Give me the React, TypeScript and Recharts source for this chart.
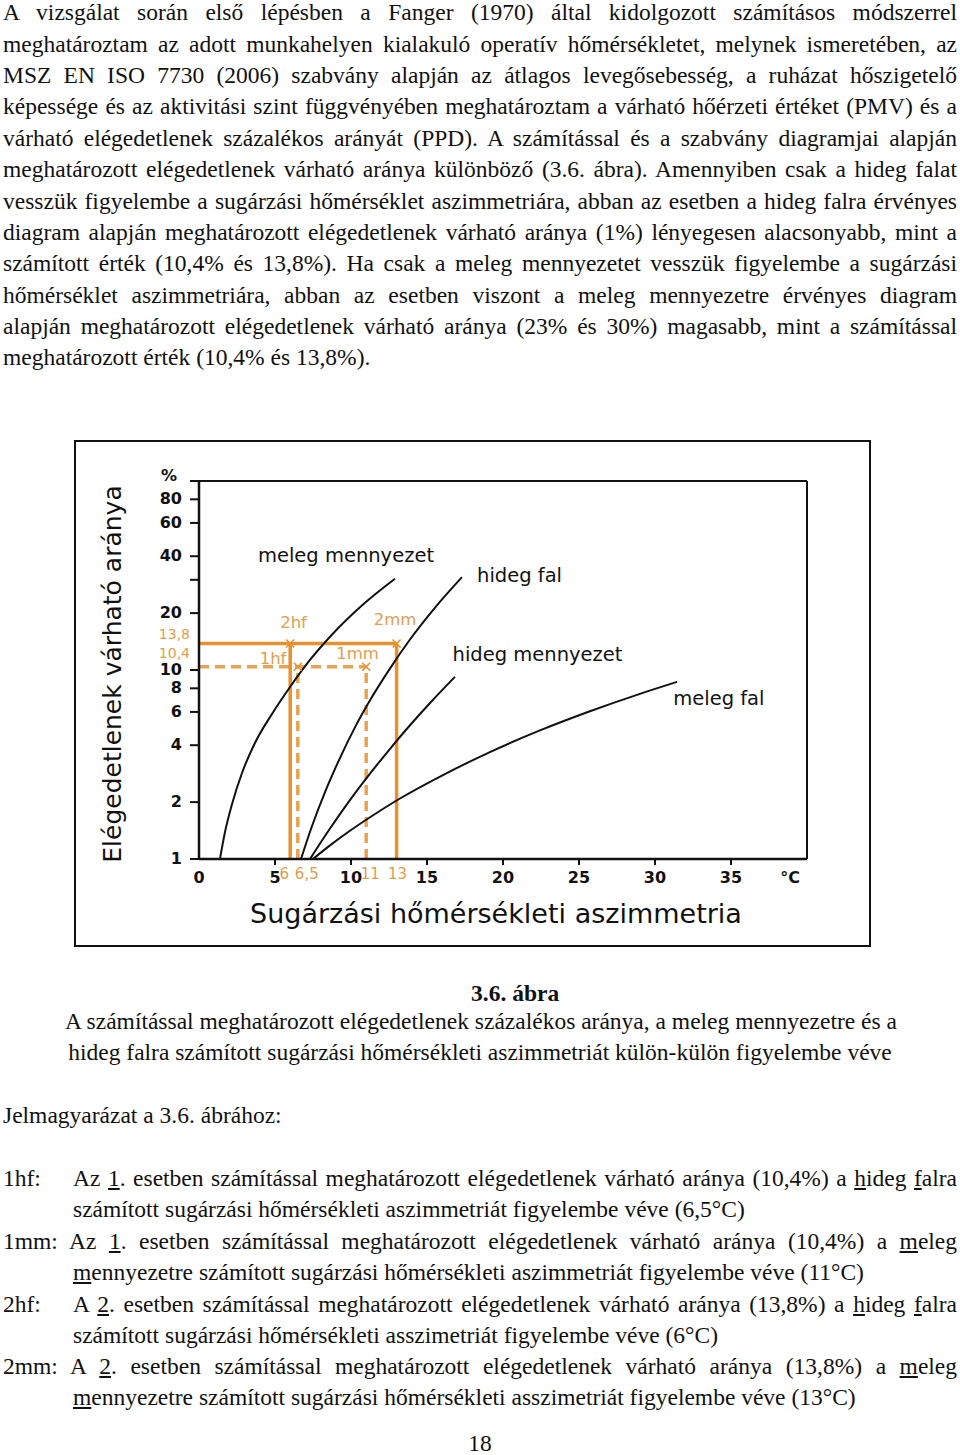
import React from 'react';
import { LineChart, Line, XAxis, YAxis, ReferenceLine, ReferenceDot } from 'recharts';

// ---------- data ----------
const xTickValues = [0, 5, 6, 6.5, 10, 11, 13, 15, 20, 25, 30, 35, 40];
const xTickLabels = ['0', '5', '6', '6,5', '10', '11', '13', '15', '20', '25', '30', '35', '°C'];
const xOrangeTicks = [6, 6.5, 11, 13];

const yTickValues = [1, 2, 4, 6, 8, 10, 10.4, 13.8, 20, 30, 40, 60, 80, 100];
const yTickLabels = ['1', '2', '4', '6', '8', '10', '10,4', '13,8', '20', '', '40', '60', '80', '%'];
const yOrangeTicks = [10.4, 13.8];

const melegMennyezet = [
  { x: 1.38, y: 1 }, { x: 1.71, y: 1.39 }, { x: 2.17, y: 1.95 }, { x: 2.83, y: 2.85 }, { x: 3.68, y: 4.11 },
  { x: 4.8, y: 5.85 }, { x: 5.99, y: 8.13 }, { x: 7.3, y: 11.3 }, { x: 8.62, y: 15.0 }, { x: 10.79, y: 22.2 },
  { x: 12.89, y: 30.4 },
];
const hidegFal = [
  { x: 6.71, y: 1 }, { x: 7.43, y: 1.49 }, { x: 8.29, y: 2.26 }, { x: 9.28, y: 3.43 }, { x: 10.26, y: 4.97 },
  { x: 11.25, y: 6.91 }, { x: 12.57, y: 10.2 }, { x: 13.88, y: 14.5 }, { x: 15.53, y: 21.4 }, { x: 17.3, y: 31.0 },
];
const hidegMennyezet = [
  { x: 7.3, y: 1 }, { x: 8.62, y: 1.45 }, { x: 9.93, y: 2.05 }, { x: 11.25, y: 2.83 }, { x: 12.57, y: 3.83 },
  { x: 13.88, y: 5.1 }, { x: 15.2, y: 6.69 }, { x: 16.84, y: 9.2 },
];
const melegFal = [
  { x: 7.5, y: 1 }, { x: 8.62, y: 1.18 }, { x: 9.93, y: 1.41 }, { x: 11.58, y: 1.73 }, { x: 13.22, y: 2.09 },
  { x: 15.86, y: 2.73 }, { x: 19.14, y: 3.68 }, { x: 22.43, y: 4.79 }, { x: 25.72, y: 6.05 }, { x: 29.01, y: 7.48 },
  { x: 31.45, y: 8.65 },
];

const curveLabels = [
  { text: 'meleg mennyezet', x: 9.67, y: 40.6 },
  { text: 'hideg fal', x: 21.09, y: 31.8 },
  { text: 'hideg mennyezet', x: 22.27, y: 12.2 },
  { text: 'meleg fal', x: 34.2, y: 7.11 },
];

// calculated cases: percentage and asymmetry temperatures
const case1Pct = 10.4;
const case2Pct = 13.8;
const case1hf = 6.5;
const case1mm = 11;
const case2hf = 6;
const case2mm = 13;

const caseLabels = [
  { text: '2hf', x: 6.22, y: 17.9 },
  { text: '2mm', x: 12.9, y: 18.5 },
  { text: '1hf', x: 4.87, y: 11.5 },
  { text: '1mm', x: 10.43, y: 12.3 },
];

// ---------- styles ----------
const CHART_FONT = "'DejaVu Sans', 'Liberation Sans', sans-serif";
const SERIF = "'Liberation Serif', 'Times New Roman', serif";
const INK = '#111';
const ORANGE = '#E8912F';
const ORANGE_DASH = '#EBA252';
const ORANGE_TEXT = '#E09E50';
const xOrangeDx: Record<string, number> = { '6': -6, '6.5': 9, '11': 4, '13': 1 };
const yOrangeDy: Record<string, number> = { '10.4': -14, '13.8': -10 };

const YTick = (props: any) => {
  const { x, y, payload } = props;
  const v = payload.value;
  const label = yTickLabels[yTickValues.indexOf(v)];
  if (yOrangeTicks.includes(v)) {
    return (
      <text x={x - 9} y={y + (yOrangeDy[String(v)] || 0)} dy="0.36em" textAnchor="end"
        fontFamily={CHART_FONT} fontSize={14} fill={ORANGE_TEXT}>{label}</text>
    );
  }
  const isPct = v === 100;
  return (
    <g>
      <line x1={x - 9} x2={x} y1={y} y2={y} stroke={INK} strokeWidth={2} />
      {label ? (
        <text x={x - (isPct ? 22 : 17)} y={y + (isPct ? -6 : -1)} dy="0.36em" textAnchor="end"
          fontFamily={CHART_FONT} fontWeight="bold" fontSize={16} fill={INK}>{label}</text>
      ) : null}
    </g>
  );
};

const XTick = (props: any) => {
  const { x, y, payload } = props;
  const v = payload.value;
  const label = xTickLabels[xTickValues.indexOf(v)];
  if (xOrangeTicks.includes(v)) {
    return (
      <text x={x + (xOrangeDx[String(v)] || 0)} y={y + 15} dy="0.36em" textAnchor="middle"
        fontFamily={CHART_FONT} fontSize={15} fill={ORANGE_TEXT}>{label}</text>
    );
  }
  const isUnit = v === 40;
  const hasTick = v > 0 && v < 40;
  return (
    <g>
      {hasTick ? <line x1={x} x2={x} y1={y} y2={y + 6} stroke={INK} strokeWidth={2} /> : null}
      <text x={x + (isUnit ? -17 : 0)} y={y + 18} dy="0.36em" textAnchor="middle"
        fontFamily={CHART_FONT} fontWeight="bold" fontSize={16} fill={INK}>{label}</text>
    </g>
  );
};

const Cross = (props: any) => {
  const { cx, cy } = props;
  return (
    <g stroke={ORANGE} strokeWidth={1.5}>
      <line x1={cx - 4} x2={cx + 4} y1={cy - 4} y2={cy + 4} />
      <line x1={cx - 4} x2={cx + 4} y1={cy + 4} y2={cy - 4} />
    </g>
  );
};

const Chart = () => (
  <LineChart width={800} height={512} margin={{ top: 43, right: 65, left: 67, bottom: 61 }}>
    <XAxis dataKey="x" type="number" domain={[0, 40]} ticks={xTickValues} interval={0}
      tick={<XTick />} tickLine={false} tickSize={0} tickMargin={0} height={30}
      axisLine={{ stroke: INK, strokeWidth: 2.5 }} allowDecimals />
    <YAxis type="number" scale="log" domain={[1, 100]} ticks={yTickValues} interval={0}
      tick={<YTick />} tickLine={false} tickSize={0} tickMargin={0} width={60}
      axisLine={{ stroke: INK, strokeWidth: 2.5 }} allowDataOverflow />
    <ReferenceLine y={100} stroke={INK} strokeWidth={2} />
    <ReferenceLine x={40} stroke={INK} strokeWidth={2} />

    <ReferenceLine segment={[{ x: 0, y: case1Pct }, { x: case1mm, y: case1Pct }]} stroke={ORANGE_DASH} strokeWidth={3.5} strokeDasharray="10 6" />
    <ReferenceLine segment={[{ x: case1hf, y: 1 }, { x: case1hf, y: case1Pct }]} stroke={ORANGE_DASH} strokeWidth={3.5} strokeDasharray="10 6" />
    <ReferenceLine segment={[{ x: case1mm, y: 1 }, { x: case1mm, y: case1Pct }]} stroke={ORANGE_DASH} strokeWidth={3.5} strokeDasharray="10 6" />
    <ReferenceLine segment={[{ x: 0, y: case2Pct }, { x: case2mm, y: case2Pct }]} stroke={ORANGE} strokeWidth={3.5} />
    <ReferenceLine segment={[{ x: case2hf, y: 1 }, { x: case2hf, y: case2Pct }]} stroke={ORANGE} strokeWidth={3.5} />
    <ReferenceLine segment={[{ x: case2mm, y: 1 }, { x: case2mm, y: case2Pct }]} stroke={ORANGE} strokeWidth={3.5} />

    <Line data={melegMennyezet} dataKey="y" type="monotone" stroke={INK} strokeWidth={2} dot={false} isAnimationActive={false} />
    <Line data={hidegFal} dataKey="y" type="monotone" stroke={INK} strokeWidth={2} dot={false} isAnimationActive={false} />
    <Line data={hidegMennyezet} dataKey="y" type="monotone" stroke={INK} strokeWidth={2} dot={false} isAnimationActive={false} />
    <Line data={melegFal} dataKey="y" type="monotone" stroke={INK} strokeWidth={2} dot={false} isAnimationActive={false} />

    <ReferenceDot x={case2hf} y={case2Pct} r={4} shape={<Cross />} />
    <ReferenceDot x={case2mm} y={case2Pct} r={4} shape={<Cross />} />
    <ReferenceDot x={case1hf} y={case1Pct} r={4} shape={<Cross />} />
    <ReferenceDot x={case1mm} y={case1Pct} r={4} shape={<Cross />} />

    {caseLabels.map((l) => (
      <ReferenceDot key={l.text} x={l.x} y={l.y} r={1}
        shape={(p: any) => (
          <text x={p.cx} y={p.cy} dy="0.36em" textAnchor="middle" fontFamily={CHART_FONT}
            fontSize={16.5} fill={ORANGE_TEXT}>{l.text}</text>
        )} />
    ))}
    {curveLabels.map((l) => (
      <ReferenceDot key={l.text} x={l.x} y={l.y} r={1}
        shape={(p: any) => (
          <text x={p.cx} y={p.cy} dy="0.36em" textAnchor="middle" fontFamily={CHART_FONT}
            fontSize={19.5} fill={INK}>{l.text}</text>
        )} />
    ))}
  </LineChart>
);

// ---------- text ----------
const paragraphLines = [
  'A vizsgálat során első lépésben a Fanger (1970) által kidolgozott számításos módszerrel',
  'meghatároztam az adott munkahelyen kialakuló operatív hőmérsékletet, melynek ismeretében, az',
  'MSZ EN ISO 7730 (2006) szabvány alapján az átlagos levegősebesség, a ruházat hőszigetelő',
  'képessége és az aktivitási szint függvényében meghatároztam a várható hőérzeti értéket (PMV) és a',
  'várható elégedetlenek százalékos arányát (PPD). A számítással és a szabvány diagramjai alapján',
  'meghatározott elégedetlenek várható aránya különböző (3.6. ábra). Amennyiben csak a hideg falat',
  'vesszük figyelembe a sugárzási hőmérséklet aszimmetriára, abban az esetben a hideg falra érvényes',
  'diagram alapján meghatározott elégedetlenek várható aránya (1%) lényegesen alacsonyabb, mint a',
  'számított érték (10,4% és 13,8%). Ha csak a meleg mennyezetet vesszük figyelembe a sugárzási',
  'hőmérséklet aszimmetriára, abban az esetben viszont a meleg mennyezetre érvényes diagram',
  'alapján meghatározott elégedetlenek várható aránya (23% és 30%) magasabb, mint a számítással',
  'meghatározott érték (10,4% és 13,8%).',
];

const TL = (p: { c: number; left?: number; width?: number; justify?: boolean; center?: boolean; bold?: boolean; children: any }) => (
  <div style={{
    position: 'absolute', top: p.c - 15.6, left: p.left ?? 3, width: p.width ?? 954, height: 31,
    lineHeight: '31px', textAlign: p.center ? 'center' : p.justify ? 'justify' : 'left',
    textAlignLast: p.center ? 'center' : p.justify ? 'justify' : 'left',
    fontWeight: p.bold ? 'bold' : 'normal',
  } as any}>{p.children}</div>
);

export default function App() {
  return (
    <div style={{ position: 'absolute', left: 0, top: 0, width: 960, height: 1455, background: '#fff', overflow: 'hidden', fontFamily: SERIF, fontSize: 23.5, color: INK }}>
      {paragraphLines.map((t, i) => (
        <TL key={i} c={13 + i * 31.36} justify={i < paragraphLines.length - 1}>{t}</TL>
      ))}

      {/* figure frame */}
      <div style={{ position: 'absolute', left: 74, top: 440, width: 793, height: 503, border: '2.5px solid #111' }} />
      <div style={{ position: 'absolute', left: 72, top: 438 }}>
        <Chart />
      </div>
      <div style={{ position: 'absolute', left: 112, top: 673.5, transform: 'translate(-50%, -50%) rotate(-90deg)', fontFamily: CHART_FONT, fontSize: 25, lineHeight: 1, whiteSpace: 'nowrap', color: INK }}>
        Elégedetlenek várható aránya
      </div>
      <div style={{ position: 'absolute', left: 250, top: 900, fontFamily: CHART_FONT, fontSize: 27, lineHeight: '27px', whiteSpace: 'nowrap', color: INK }}>
        Sugárzási hőmérsékleti aszimmetria
      </div>

      {/* caption */}
      <TL c={994} left={471} width={200} bold>3.6. ábra</TL>
      <TL c={1022} left={0} width={962} center>A számítással meghatározott elégedetlenek százalékos aránya, a meleg mennyezetre és a</TL>
      <TL c={1053} left={0} width={960} center>hideg falra számított sugárzási hőmérsékleti aszimmetriát külön-külön figyelembe véve</TL>

      <TL c={1116}>Jelmagyarázat a 3.6. ábrához:</TL>

      <TL c={1179}>1hf:</TL>
      <TL c={1179} left={73} width={884} justify>Az <u>1</u>. esetben számítással meghatározott elégedetlenek várható aránya (10,4%) a <u>h</u>ideg <u>f</u>alra</TL>
      <TL c={1210} left={73} width={884}>számított sugárzási hőmérsékleti aszimmetriát figyelembe véve (6,5°C)</TL>

      <TL c={1242} justify>1mm: Az <u>1</u>. esetben számítással meghatározott elégedetlenek várható aránya (10,4%) a <u>m</u>eleg</TL>
      <TL c={1273} left={73} width={884}><u>m</u>ennyezetre számított sugárzási hőmérsékleti aszimmetriát figyelembe véve (11°C)</TL>

      <TL c={1305}>2hf:</TL>
      <TL c={1305} left={73} width={884} justify>A <u>2</u>. esetben számítással meghatározott elégedetlenek várható aránya (13,8%) a <u>h</u>ideg <u>f</u>alra</TL>
      <TL c={1336} left={73} width={884}>számított sugárzási hőmérsékleti asszimetriát figyelembe véve (6°C)</TL>

      <TL c={1367} justify>2mm: A <u>2</u>. esetben számítással meghatározott elégedetlenek várható aránya (13,8%) a <u>m</u>eleg</TL>
      <TL c={1398} left={73} width={884}><u>m</u>ennyezetre számított sugárzási hőmérsékleti asszimetriát figyelembe véve (13°C)</TL>

      <TL c={1444} left={0} width={960} center>18</TL>
    </div>
  );
}
